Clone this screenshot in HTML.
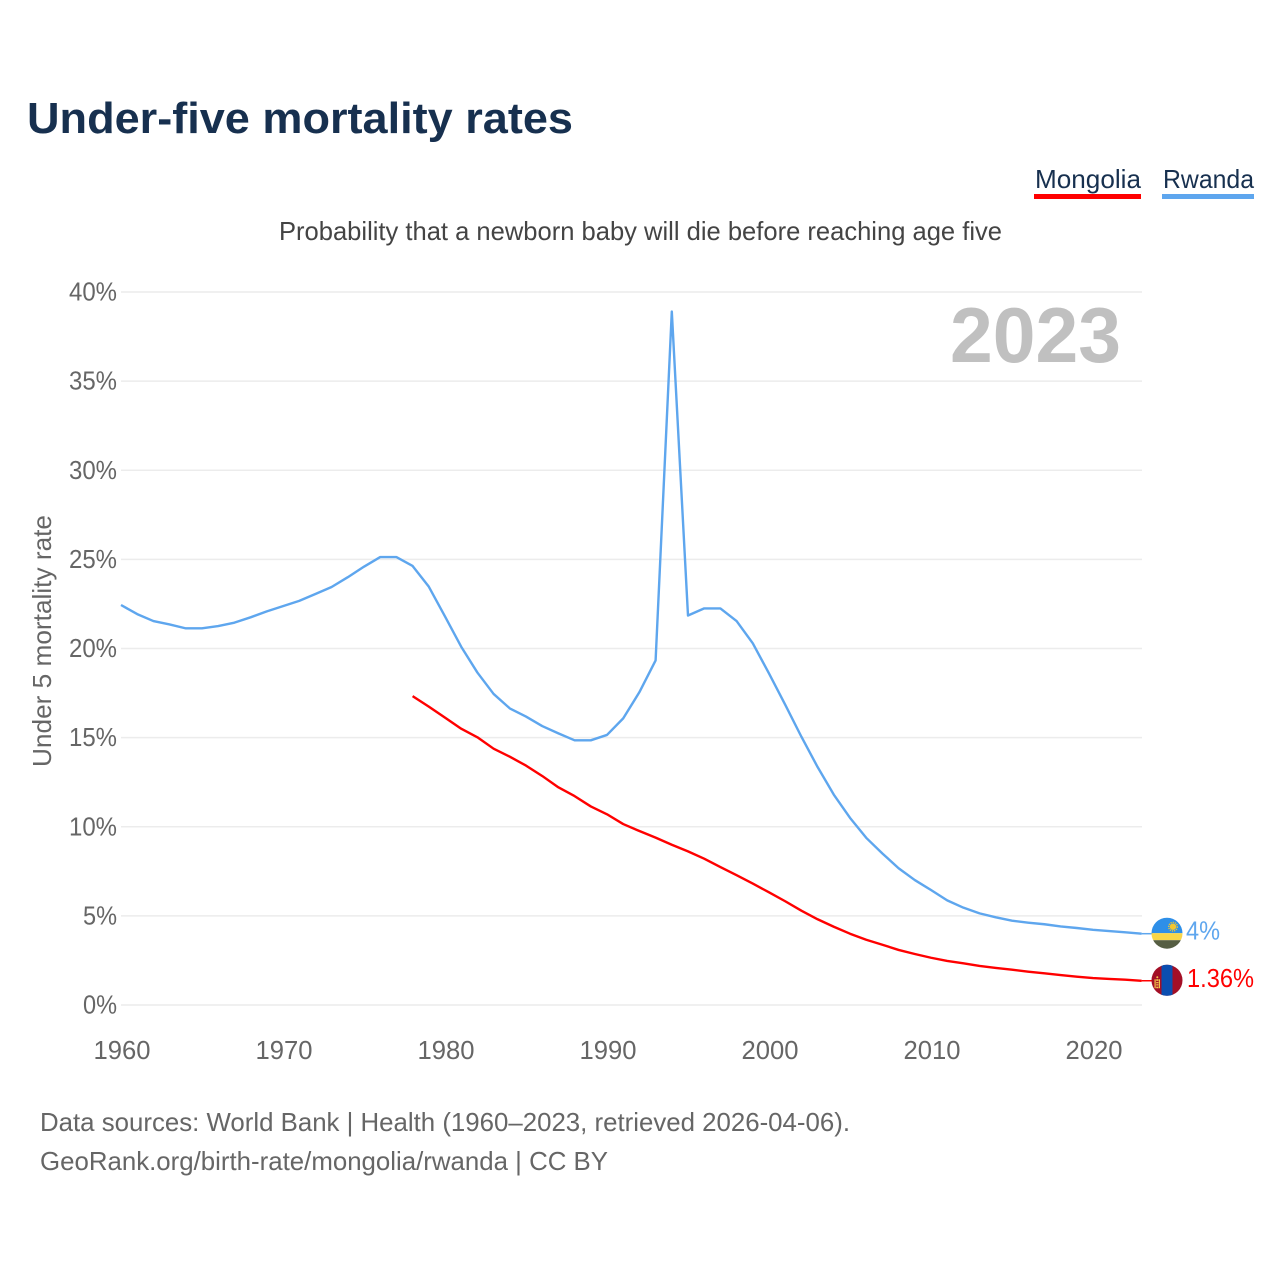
<!DOCTYPE html>
<html lang="en">
<head>
<meta charset="utf-8">
<title>Under-five mortality rates</title>
<style>
html,body{margin:0;padding:0;background:#fff;width:1280px;height:1280px;overflow:hidden}
svg{display:block}
text{font-family:"Liberation Sans",sans-serif}
</style>
</head>
<body>
<svg id="chart" xmlns="http://www.w3.org/2000/svg" width="1280" height="1280" viewBox="0 0 1280 1280">
  <rect width="1280" height="1280" fill="#fff"/>
  <text x="27" y="133" font-size="44" font-weight="700" fill="#17304f" textLength="546" lengthAdjust="spacingAndGlyphs">Under-five mortality rates</text>

  <g>
    <g>
      <text x="1035" y="188" font-size="26" fill="#17304f" textLength="106" lengthAdjust="spacingAndGlyphs">Mongolia</text>
      <rect x="1034" y="194" width="107" height="5" fill="#ff0000"/>
    </g>
    <g>
      <text x="1163" y="188" font-size="26" fill="#17304f" textLength="91" lengthAdjust="spacingAndGlyphs">Rwanda</text>
      <rect x="1162" y="194" width="92" height="5" fill="#5ea6ee"/>
    </g>
  </g>

  <text x="279" y="240" font-size="26" fill="#444" textLength="723" lengthAdjust="spacingAndGlyphs">Probability that a newborn baby will die before reaching age five</text>

  <g id="grid"></g>
  <g id="y-ticks"></g>
  <g id="x-ticks"></g>

  <text transform="translate(51,767) rotate(-90)" font-size="26" fill="#666" textLength="252" lengthAdjust="spacingAndGlyphs">Under 5 mortality rate</text>

  <text x="950" y="362" font-size="78" font-weight="700" fill="#c0c0c0" textLength="171" lengthAdjust="spacingAndGlyphs">2023</text>

  <polyline id="line-rwanda" fill="none" stroke="#5ea6ee" stroke-width="2.4" stroke-linejoin="round"/>
  <polyline id="line-mongolia" fill="none" stroke="#ff0000" stroke-width="2.4" stroke-linejoin="round"/>
  <line id="lead-rwanda" stroke="#5ea6ee" stroke-width="1.5"/>
  <line id="lead-mongolia" stroke="#ff0000" stroke-width="1.5"/>

  <defs>
    <clipPath id="flag-clip"><circle cx="0" cy="0" r="15.5"/></clipPath>
  </defs>

  <g id="flag-rwanda">
    <g clip-path="url(#flag-clip)">
      <rect x="-16" y="-16" width="32" height="16" fill="#2e8fe8"/>
      <rect x="-16" y="0" width="32" height="7" fill="#f9d648"/>
      <rect x="-16" y="7" width="32" height="9" fill="#565e43"/>
      <circle cx="6" cy="-6.5" r="3.2" fill="#f2c62f"/>
      <circle cx="6" cy="-6.5" r="4.3" fill="none" stroke="#f2c62f" stroke-width="1.4" stroke-dasharray="1.2 1"/>
    </g>
  </g>
  <g id="flag-mongolia">
    <g clip-path="url(#flag-clip)">
      <rect x="-16" y="-16" width="32" height="32" fill="#a30f26"/>
      <rect x="-5.5" y="-16" width="11" height="32" fill="#0b4eb0"/>
      <rect x="-12.5" y="-1" width="1.2" height="9" fill="#f2c94c"/>
      <rect x="-8.2" y="-1" width="1.2" height="9" fill="#f2c94c"/>
      <rect x="-10.8" y="-1" width="2.2" height="1.6" fill="#f2c94c"/>
      <rect x="-10.8" y="1.8" width="2.2" height="1.2" fill="#f2c94c"/>
      <rect x="-10.8" y="4" width="2.2" height="1.2" fill="#f2c94c"/>
      <rect x="-10.8" y="6.4" width="2.2" height="1.6" fill="#f2c94c"/>
      <circle cx="-9.7" cy="-3" r="1" fill="#f2c94c"/>
    </g>
  </g>

  <text id="value-rwanda" x="1186" font-size="26" fill="#5ea6ee" textLength="34" lengthAdjust="spacingAndGlyphs"></text>
  <text id="value-mongolia" x="1187" font-size="26" fill="#ff0000" textLength="67" lengthAdjust="spacingAndGlyphs"></text>

  <text x="40" y="1131" font-size="26" fill="#666" textLength="810" lengthAdjust="spacingAndGlyphs">Data sources: World Bank | Health (1960–2023, retrieved 2026-04-06).</text>
  <text x="40" y="1170" font-size="26" fill="#666" textLength="568" lengthAdjust="spacingAndGlyphs">GeoRank.org/birth-rate/mongolia/rwanda | CC BY</text>
</svg>
<script>
const rwandaStartYear = 1960;
const rwandaValues = [
  22.44,21.93,21.54,21.35,21.13,21.13,21.26,21.45,21.75,22.08,
  22.38,22.67,23.06,23.45,24.0,24.59,25.13,25.13,24.63,23.47,
  21.8,20.1,18.65,17.45,16.64,16.18,15.65,15.24,14.85,14.85,
  15.15,16.08,17.55,19.33,38.9,21.85,22.25,22.25,21.54,20.29,
  18.6,16.85,15.05,13.35,11.8,10.5,9.38,8.5,7.67,7.01,
  6.45,5.87,5.46,5.14,4.92,4.73,4.62,4.53,4.41,4.32,
  4.22,4.15,4.08,4.0
];
const mongoliaStartYear = 1978;
const mongoliaValues = [
  17.33,16.74,16.12,15.5,15.02,14.38,13.93,13.43,12.85,12.21,
  11.72,11.14,10.7,10.15,9.76,9.39,8.99,8.62,8.21,7.74,
  7.28,6.81,6.32,5.82,5.29,4.81,4.39,4.0,3.66,3.38,
  3.09,2.86,2.65,2.47,2.34,2.19,2.08,1.98,1.87,1.78,
  1.68,1.59,1.51,1.46,1.42,1.36
];
const yTickValues = [0,5,10,15,20,25,30,35,40];
const yTickLabels = ["0%","5%","10%","15%","20%","25%","30%","35%","40%"];
const xTickValues = [1960,1970,1980,1990,2000,2010,2020];
const xTickLabels = ["1960","1970","1980","1990","2000","2010","2020"];
const endLabels = {rwanda:"4%",mongolia:"1.36%"};

const NS = "http://www.w3.org/2000/svg";
function xScale(year){ return 121 + (year - 1960) * 16.2; }
function yScale(v){ return 1005 - v * 17.825; }
function pointsFor(startYear, values){
  return values.map(function(v,i){ return xScale(startYear + i).toFixed(2) + "," + yScale(v).toFixed(2); }).join(" ");
}

const grid = document.getElementById("grid");
const yTicks = document.getElementById("y-ticks");
yTickValues.forEach(function(v,i){
  const line = document.createElementNS(NS,"line");
  
  
  line.setAttribute("x1",121);
  line.setAttribute("x2",1142);
  line.setAttribute("y1",yScale(v));
  line.setAttribute("y2",yScale(v));
  line.setAttribute("stroke","#ececec");
  line.setAttribute("stroke-width",1.5);
  grid.appendChild(line);
  const t = document.createElementNS(NS,"text");
  
  
  t.setAttribute("x",117);
  t.setAttribute("y",yScale(v)+8.5);
  t.setAttribute("text-anchor","end");
  t.setAttribute("font-size",26);
  t.setAttribute("fill","#666");
  t.setAttribute("textLength",yTickLabels[i].length === 2 ? 34 : 48);
  t.setAttribute("lengthAdjust","spacingAndGlyphs");
  t.textContent = yTickLabels[i];
  yTicks.appendChild(t);
});

const xTicks = document.getElementById("x-ticks");
xTickValues.forEach(function(year,i){
  const t = document.createElementNS(NS,"text");
  
  
  t.setAttribute("x",xScale(year)+1);
  t.setAttribute("y",1059);
  t.setAttribute("text-anchor","middle");
  t.setAttribute("font-size",26);
  t.setAttribute("fill","#666");
  t.setAttribute("textLength",57);
  t.setAttribute("lengthAdjust","spacingAndGlyphs");
  t.textContent = xTickLabels[i];
  xTicks.appendChild(t);
});

document.getElementById("line-rwanda").setAttribute("points",pointsFor(rwandaStartYear,rwandaValues));
document.getElementById("line-mongolia").setAttribute("points",pointsFor(mongoliaStartYear,mongoliaValues));

function placeEnd(id, values, startYear, labelText, labelOffset){
  const last = values[values.length-1];
  const yEnd = yScale(last);
  const xEnd = xScale(startYear + values.length - 1);
  const lead = document.getElementById("lead-"+id);
  lead.setAttribute("x1",xEnd);
  lead.setAttribute("x2",1153);
  lead.setAttribute("y1",yEnd);
  lead.setAttribute("y2",yEnd);
  document.getElementById("flag-"+id).setAttribute("transform","translate(1167,"+(yEnd-0.5)+")");
  const v = document.getElementById("value-"+id);
  v.setAttribute("y",yEnd+labelOffset);
  v.textContent = labelText;
}
placeEnd("rwanda",rwandaValues,rwandaStartYear,endLabels.rwanda,6);
placeEnd("mongolia",mongoliaValues,mongoliaStartYear,endLabels.mongolia,6);
</script>
</body>
</html>
